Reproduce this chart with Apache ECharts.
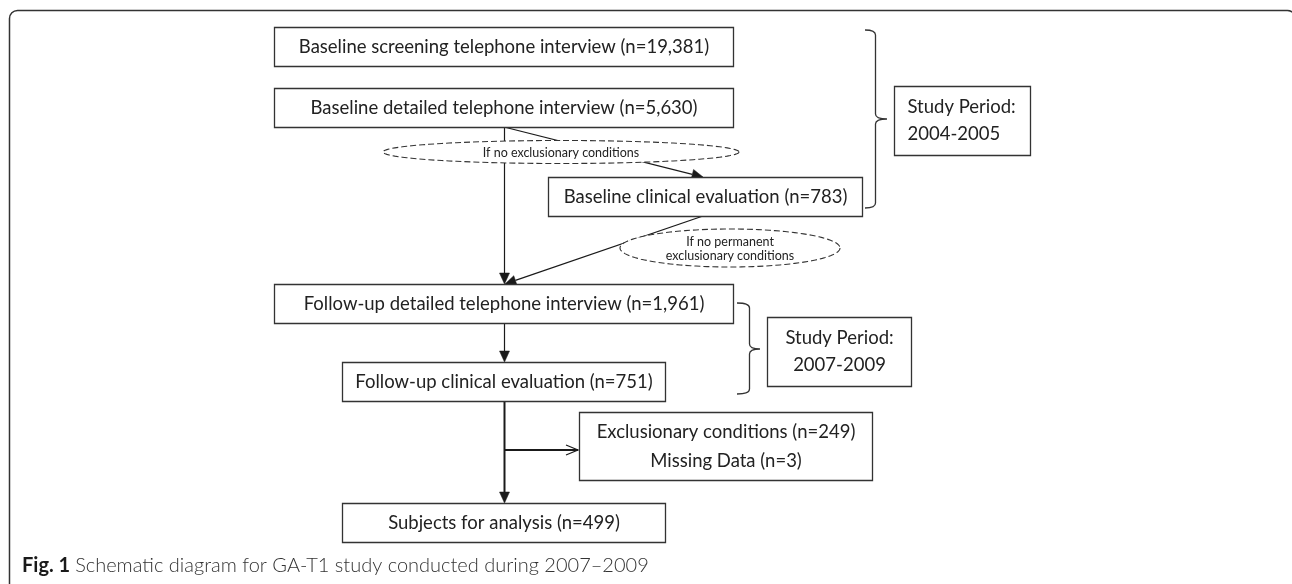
<!DOCTYPE html>
<html>
<head>
<meta charset="utf-8">
<style>
html, body { margin: 0; padding: 0; background: #fff; }
#main { width: 1292px; height: 584px; }
</style>
<script src="https://cdn.jsdelivr.net/npm/echarts@6/dist/echarts.min.js"></script>
</head>
<body>
<div id="main"></div>
<script>
// study stages and their counts
var stageNames = ['Baseline screening telephone interview', 'Baseline detailed telephone interview',
    'Baseline clinical evaluation', 'Follow-up detailed telephone interview',
    'Follow-up clinical evaluation', 'Subjects for analysis'];
var stageCounts = ['19,381', '5,630', '783', '1,961', '751', '499'];
var excludedNames = ['Exclusionary conditions', 'Missing Data'];
var excludedCounts = ['249', '3'];
var conditionNotes = ['If no exclusionary conditions', 'If no permanent\nexclusionary conditions'];
var periodLabels = ['2004-2005', '2007-2009'];
var captionBold = 'Fig. 1';
var captionText = 'Schematic diagram for GA-T1 study conducted during 2007\u20132009';

// layout of the diagram, in pixel units of the hidden axes
var stageLayout = [[274, 27, 733, 66], [274, 88, 733, 127], [548, 177, 862, 216],
    [274, 284, 733, 323], [342, 362, 665, 401], [342, 503, 665, 542]];
var excludedLayout = [[579, 412, 872, 480]];
var periodLayout = [[894, 86, 1030, 155, 0], [767, 317, 911, 386, 1]];
var braceLayout = [[865, 875, 887, 30, 208, 119], [737, 749, 760, 303, 394, 349]];
var noteLayout = [[561, 152, 178, 11.5], [730, 248, 110, 19]];
// x0, y0, x1, y1, line width, open head
var arrowLayout = [[504.5, 127, 504.5, 284, 1.2, 0], [504, 127, 703, 177, 1.2, 0],
    [703, 216, 505, 284, 1.2, 0], [504.5, 323, 504.5, 362, 1.2, 0],
    [504.5, 401, 504.5, 503, 2, 0], [504.5, 450, 578, 450, 2, 1]];

var INK = '#222';
var EDGE = '#333';
var BOX_FONT = 18.5;

var stageText = stageNames.map(function (s, i) {
    return s + ' (n=' + stageCounts[i] + ')';
});
var excludedText = [excludedNames.map(function (s, i) {
    return s + ' (n=' + excludedCounts[i] + ')';
}).join('\n')];

function corners(api) {
    var a = api.coord([api.value(0), api.value(1)]);
    var b = api.coord([api.value(2), api.value(3)]);
    return [Math.round(a[0]) + 0.5, Math.round(a[1]) + 0.5, Math.round(b[0]) + 0.5, Math.round(b[1]) + 0.5];
}

function boxRenderer(texts, lh) {
    return function (params, api) {
        var c = corners(api);
        return {
            type: 'group',
            children: [{
                type: 'rect',
                shape: { x: c[0], y: c[1], width: c[2] - c[0], height: c[3] - c[1] },
                style: { fill: '#fff', stroke: EDGE, lineWidth: 1.3 }
            }, {
                type: 'text',
                x: (c[0] + c[2]) / 2,
                y: (c[1] + c[3]) / 2,
                style: {
                    text: texts[params.dataIndex], align: 'center', verticalAlign: 'middle',
                    fontFamily: 'Lato', fontSize: BOX_FONT, lineHeight: lh, fill: INK
                }
            }]
        };
    };
}

function periodItem(params, api) {
    var c = corners(api);
    var idx = api.value(4);
    var left = idx === 0;
    return {
        type: 'group',
        children: [{
            type: 'rect',
            shape: { x: c[0], y: c[1], width: c[2] - c[0], height: c[3] - c[1] },
            style: { fill: '#fff', stroke: EDGE, lineWidth: 1.3 }
        }, {
            type: 'text',
            x: left ? c[0] + 13 : (c[0] + c[2]) / 2,
            y: (c[1] + c[3]) / 2,
            style: {
                text: 'Study Period:\n' + periodLabels[idx], align: left ? 'left' : 'center',
                verticalAlign: 'middle', fontFamily: 'Lato', fontSize: BOX_FONT, lineHeight: 27, fill: INK
            }
        }]
    };
}

function braceItem(params, api) {
    var p0 = api.coord([api.value(0), api.value(3)]);
    var p1 = api.coord([api.value(1), api.value(5)]);
    var p2 = api.coord([api.value(2), api.value(4)]);
    var x0 = p0[0], x1 = p1[0] + 0.5, xt = p2[0], y0 = p0[1], yt = p1[1], y1 = p2[1];
    var r = 5;
    var d = 'M' + x0 + ' ' + y0 + ' Q' + x1 + ' ' + y0 + ' ' + x1 + ' ' + (y0 + r) +
        ' L' + x1 + ' ' + (yt - r) + ' Q' + x1 + ' ' + yt + ' ' + xt + ' ' + yt +
        ' Q' + x1 + ' ' + yt + ' ' + x1 + ' ' + (yt + r) +
        ' L' + x1 + ' ' + (y1 - r) + ' Q' + x1 + ' ' + y1 + ' ' + x0 + ' ' + y1;
    return {
        type: 'path',
        shape: { pathData: d },
        style: { fill: null, stroke: EDGE, lineWidth: 1.3 }
    };
}

function noteItem(params, api) {
    var c = api.coord([api.value(0), api.value(1)]);
    var e = api.coord([api.value(0) + api.value(2), api.value(1) + api.value(3)]);
    var rx = e[0] - c[0], ry = e[1] - c[1];
    var pts = [];
    for (var k = 0; k < 120; k++) {
        var t = k / 120 * Math.PI * 2;
        pts.push([c[0] + rx * Math.cos(t), c[1] + ry * Math.sin(t)]);
    }
    return {
        type: 'group',
        children: [{
            type: 'polygon',
            shape: { points: pts },
            style: { fill: '#fff', stroke: '#333', lineWidth: 1.1, lineDash: [6, 3] }
        }, {
            type: 'text',
            x: c[0], y: c[1] + 0.5,
            style: {
                text: conditionNotes[params.dataIndex], align: 'center', verticalAlign: 'middle',
                fontFamily: 'Lato', fontSize: 12.5, lineHeight: 14, fill: INK
            }
        }]
    };
}

function arrowItem(params, api) {
    var a = api.coord([api.value(0), api.value(1)]);
    var b = api.coord([api.value(2), api.value(3)]);
    var w = api.value(4), open = api.value(5);
    var dx = b[0] - a[0], dy = b[1] - a[1];
    var L = Math.sqrt(dx * dx + dy * dy), ux = dx / L, uy = dy / L;
    var hl = open ? 12 : 11, hw = 5;
    var base = [b[0] - ux * hl, b[1] - uy * hl];
    var l = [base[0] - uy * hw, base[1] + ux * hw], r = [base[0] + uy * hw, base[1] - ux * hw];
    var end = open ? b : base;
    return {
        type: 'group',
        children: [{
            type: 'line',
            shape: { x1: a[0], y1: a[1], x2: end[0], y2: end[1] },
            style: { stroke: '#1a1a1a', lineWidth: w }
        }, open ? {
            type: 'polyline',
            shape: { points: [l, b, r] },
            style: { fill: null, stroke: '#1a1a1a', lineWidth: 1.2 }
        } : {
            type: 'polygon',
            shape: { points: [l, b, r] },
            style: { fill: '#1a1a1a', stroke: '#1a1a1a', lineWidth: 0.5 }
        }]
    };
}

var myChart = echarts.init(document.getElementById('main'), null, { renderer: 'canvas' });

option = {
    animation: false,
    backgroundColor: '#fff',
    title: {
        text: '{b|' + captionBold + '} {l|' + captionText + '}',
        left: 22,
        top: 556,
        padding: 0,
        textStyle: {
            rich: {
                b: { fontFamily: 'Lato', fontWeight: 'bold', fontSize: 20, color: '#1a1a1a' },
                l: { fontFamily: 'Lato', fontWeight: 300, fontSize: 20, color: '#333' }
            }
        }
    },
    graphic: [{
        type: 'rect',
        shape: { x: 9.5, y: 10.5, width: 1286, height: 640, r: 8 },
        style: { fill: null, stroke: '#333', lineWidth: 1.5 },
        z: -10
    }],
    grid: { left: 0, right: 0, top: 0, bottom: 0 },
    xAxis: { type: 'value', min: 0, max: 1292, show: false },
    yAxis: { type: 'value', min: 0, max: 584, inverse: true, show: false },
    series: [
        { type: 'custom', name: 'arrows', renderItem: arrowItem, data: arrowLayout, z: 2 },
        { type: 'custom', name: 'notes', renderItem: noteItem, data: noteLayout, z: 3 },
        { type: 'custom', name: 'braces', renderItem: braceItem, data: braceLayout, z: 2 },
        { type: 'custom', name: 'stages', renderItem: boxRenderer(stageText, 20), data: stageLayout, z: 4 },
        { type: 'custom', name: 'excluded', renderItem: boxRenderer(excludedText, 29), data: excludedLayout, z: 4 },
        { type: 'custom', name: 'periods', renderItem: periodItem, data: periodLayout, z: 4 }
    ]
};
myChart.setOption(option);
</script>
</body>
</html>
